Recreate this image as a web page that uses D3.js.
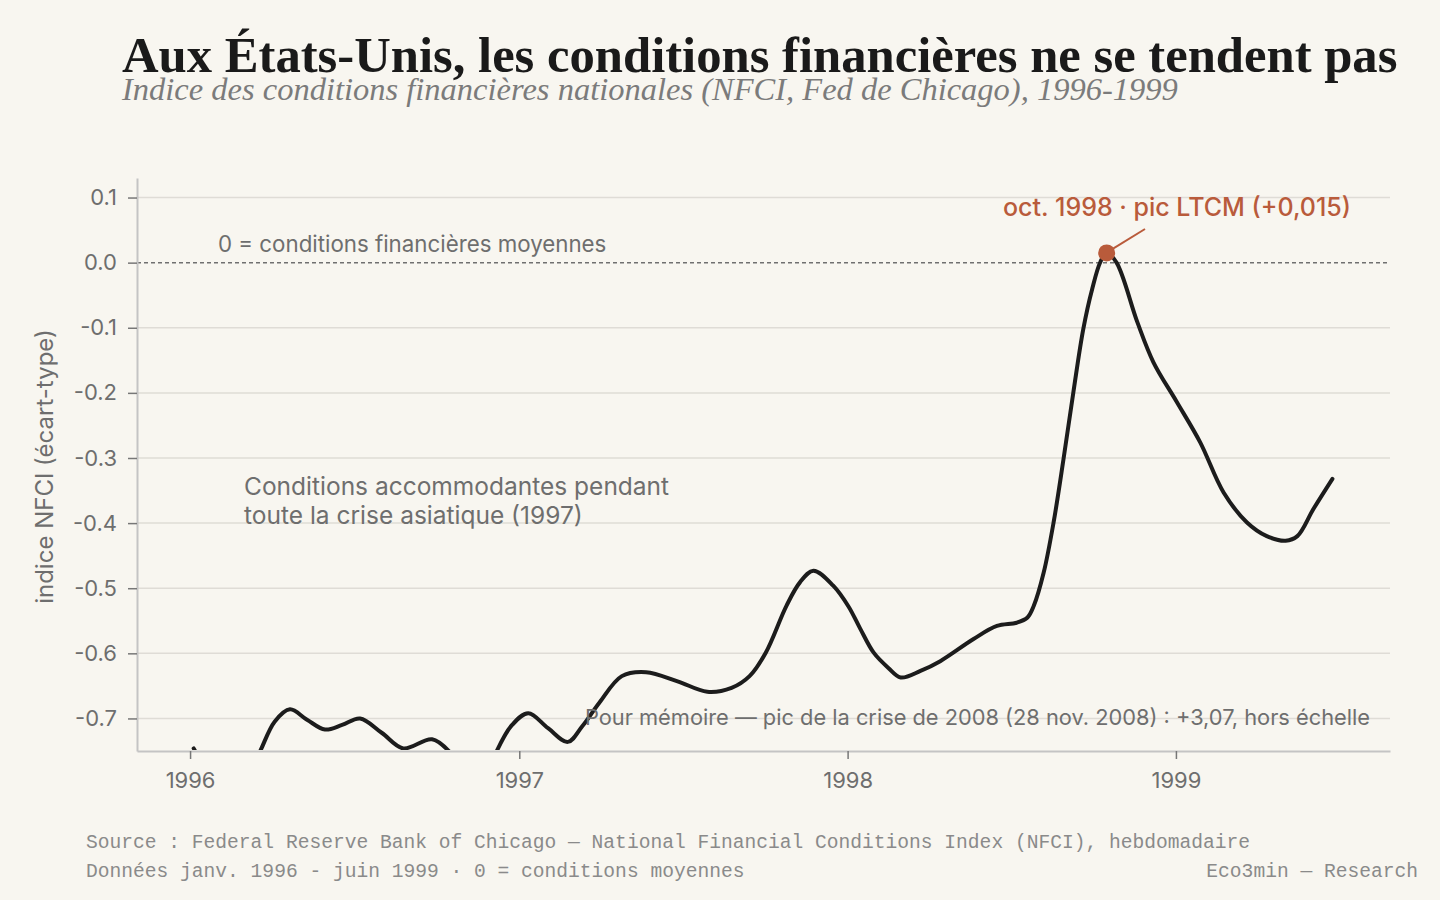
<!doctype html>
<html>
<head>
<meta charset="utf-8"/>
<title>NFCI 1996-1999</title>
<script src="https://d3js.org/d3.v7.min.js"></script>
<style>
body { margin: 0; background: #f8f6f0; }
svg { display: block; }
</style>
</head>
<body>
<svg id="chart"></svg>
<script>
// NFCI (values below -0.75 are clipped in the chart)
const dates = [
    '1996-01-05', '1996-01-26', '1996-02-16', '1996-03-08', '1996-03-19', '1996-04-04',
    '1996-04-21', '1996-05-10', '1996-05-30', '1996-06-18', '1996-07-08', '1996-08-01',
    '1996-08-25', '1996-09-26', '1996-10-16', '1996-10-30', '1996-11-15', '1996-11-29',
    '1996-12-07', '1996-12-24', '1997-01-11', '1997-02-02', '1997-02-24', '1997-03-12',
    '1997-03-31', '1997-04-25', '1997-05-22', '1997-06-26', '1997-07-29', '1997-08-25',
    '1997-09-14', '1997-10-02', '1997-10-25', '1997-11-09', '1997-11-24', '1997-12-16',
    '1998-01-02', '1998-01-15', '1998-01-30', '1998-02-15', '1998-03-01', '1998-03-23',
    '1998-04-14', '1998-05-21', '1998-06-16', '1998-07-08', '1998-07-20', '1998-07-27',
    '1998-08-07', '1998-08-18', '1998-08-29', '1998-09-09', '1998-09-20', '1998-09-30',
    '1998-10-09', '1998-10-16', '1998-10-27', '1998-11-19', '1998-12-07', '1999-01-02',
    '1999-01-28', '1999-02-23', '1999-03-21', '1999-04-12', '1999-05-03', '1999-05-16',
    '1999-06-03', '1999-06-24'
]
const nfci = [
    -0.746, -0.79, -0.81, -0.78, -0.750, -0.705,
    -0.686, -0.702, -0.717, -0.710, -0.700, -0.722,
    -0.746, -0.732, -0.752, -0.78, -0.80, -0.78,
    -0.750, -0.710, -0.692, -0.715, -0.736, -0.712,
    -0.676, -0.635, -0.629, -0.643, -0.659, -0.653,
    -0.635, -0.599, -0.527, -0.491, -0.473, -0.496,
    -0.528, -0.562, -0.599, -0.622, -0.637, -0.627,
    -0.612, -0.578, -0.558, -0.553, -0.545, -0.527,
    -0.476, -0.399, -0.302, -0.199, -0.102, -0.040,
    0.001, 0.015, 0.000, -0.091, -0.153, -0.214,
    -0.276, -0.353, -0.399, -0.420, -0.427, -0.420,
    -0.378, -0.332
]
const yTicks = [0.1, 0, -0.1, -0.2, -0.3, -0.4, -0.5, -0.6, -0.7]
const xTicks = ['1996-01-01', '1997-01-01', '1998-01-01', '1999-01-01']
const peakDate = '1998-10-16'
const peakValue = 0.015

const width = 1440
const height = 900
const mLeft = 137, mRight = 1390, mTop = 178, mBottom = 751

const bg = '#f8f6f0'
const ink = '#1c1c1c'
const grey = '#6e6e6e'
const accent = '#b95b3b'
const sans = 'Inter, "Noto Sans", sans-serif'

const parse = d3.timeParse('%Y-%m-%d')
const data = dates.map((d, i) => ({ date: parse(d), value: nfci[i] }))

const svg = d3.select('#chart')
    .attr('width', width)
    .attr('height', height)
    .style('background', bg)

const x = d3.scaleTime()
    .domain([parse('1995-11-03'), parse('1999-08-27')])
    .range([mLeft, mRight])
const y = d3.scaleLinear()
    .domain([-0.75, 0.13])
    .range([mBottom, mTop])

// scale a text's font size so it spans the target width
function fitWidth(sel, target) {
    const w = sel.node().getComputedTextLength()
    const fs = parseFloat(sel.attr('font-size'))
    sel.attr('font-size', fs * target / w)
}

// title + subtitle
const title = svg.append('text')
    .attr('x', 122).attr('y', 72)
    .attr('font-family', '"Liberation Serif", "DejaVu Serif", serif')
    .attr('font-weight', 700)
    .attr('font-size', 44)
    .attr('fill', '#1a1a1a')
    .text('Aux États-Unis, les conditions financières ne se tendent pas')
fitWidth(title, 1276)

const subtitle = svg.append('text')
    .attr('x', 122).attr('y', 100)
    .attr('font-family', '"Liberation Serif", "DejaVu Serif", serif')
    .attr('font-style', 'italic')
    .attr('font-size', 28)
    .attr('fill', '#7b7b7b')
    .text('Indice des conditions financières nationales (NFCI, Fed de Chicago), 1996-1999')
fitWidth(subtitle, 1056)

// grid
svg.append('g')
    .selectAll('line')
    .data(yTicks.filter(d => d !== 0))
    .join('line')
    .attr('x1', mLeft).attr('x2', mRight)
    .attr('y1', d => y(d)).attr('y2', d => y(d))
    .attr('stroke', '#dfdcd6')
    .attr('stroke-width', 1.5)

// zero line
svg.append('line')
    .attr('x1', mLeft).attr('x2', mRight - 3)
    .attr('y1', y(0)).attr('y2', y(0))
    .attr('stroke', '#707070')
    .attr('stroke-width', 1.5)
    .attr('stroke-dasharray', '4,3')

// axes
const yAxis = svg.append('g')
    .attr('transform', `translate(${mLeft},0)`)
    .call(d3.axisLeft(y).tickValues(yTicks).tickFormat(d => d.toFixed(1))
        .tickSize(9).tickSizeOuter(0).tickPadding(11))
const xAxis = svg.append('g')
    .attr('transform', `translate(0,${mBottom})`)
    .call(d3.axisBottom(x).tickValues(xTicks.map(parse)).tickFormat(d3.timeFormat('%Y'))
        .tickSize(8).tickSizeOuter(0).tickPadding(13))

for (const g of [yAxis, xAxis]) {
    g.select('.domain').attr('stroke', '#c4c4c4').attr('stroke-width', 2)
    g.selectAll('.tick line').attr('stroke', '#777').attr('stroke-width', 1.5)
    g.selectAll('.tick text')
        .attr('fill', grey)
        .attr('font-family', sans)
        .attr('font-size', 22)
}

svg.append('text')
    .attr('transform', `translate(53,${(mTop + mBottom) / 2 + 2}) rotate(-90)`)
    .attr('text-anchor', 'middle')
    .attr('font-family', sans)
    .attr('font-size', 24)
    .attr('fill', grey)
    .text('indice NFCI (écart-type)')

// annotations
svg.append('text')
    .attr('x', 218).attr('y', 252)
    .attr('font-family', sans).attr('font-size', 22.3).attr('fill', grey)
    .text('0 = conditions financières moyennes')

const note = svg.append('text')
    .attr('x', 244).attr('y', 495)
    .attr('font-family', sans).attr('font-size', 24.5).attr('fill', grey)
note.append('tspan').attr('x', 244).text('Conditions accommodantes pendant')
note.append('tspan').attr('x', 244).attr('dy', 29).text('toute la crise asiatique (1997)')

// line, clipped to plot area
svg.append('clipPath').attr('id', 'plot')
    .append('rect')
    .attr('x', mLeft).attr('y', mTop)
    .attr('width', mRight - mLeft).attr('height', mBottom - mTop - 1)

svg.append('path')
    .datum(data)
    .attr('clip-path', 'url(#plot)')
    .attr('fill', 'none')
    .attr('stroke', ink)
    .attr('stroke-width', 4)
    .attr('stroke-linejoin', 'round')
    .attr('stroke-linecap', 'round')
    .attr('d', d3.line().x(d => x(d.date)).y(d => y(d.value)).curve(d3.curveCatmullRom.alpha(0.5)))

svg.append('text')
    .attr('x', 1370).attr('y', 725)
    .attr('text-anchor', 'end')
    .attr('font-family', sans).attr('font-size', 21.8).attr('fill', grey)
    .text('Pour mémoire — pic de la crise de 2008 (28 nov. 2008) : +3,07, hors échelle')

// peak LTCM
const px = x(parse(peakDate)), py = y(peakValue)
svg.append('line')
    .attr('x1', px + 6).attr('y1', py - 4)
    .attr('x2', 1145).attr('y2', 229)
    .attr('stroke', accent).attr('stroke-width', 2)
svg.append('circle')
    .attr('cx', px).attr('cy', py).attr('r', 8.5)
    .attr('fill', accent)
svg.append('text')
    .attr('x', 1351).attr('y', 216)
    .attr('text-anchor', 'end')
    .attr('font-family', sans).attr('font-size', 25).attr('font-weight', 500)
    .attr('fill', accent)
    .text('oct. 1998 · pic LTCM (+0,015)')

// footer
const mono = '"Liberation Mono", "DejaVu Sans Mono", monospace'
svg.append('text')
    .attr('x', 86).attr('y', 848)
    .attr('font-family', mono).attr('font-size', 19.6).attr('fill', '#8a8a8a')
    .text('Source : Federal Reserve Bank of Chicago — National Financial Conditions Index (NFCI), hebdomadaire')
svg.append('text')
    .attr('x', 86).attr('y', 877)
    .attr('font-family', mono).attr('font-size', 19.6).attr('fill', '#8a8a8a')
    .text('Données janv. 1996 - juin 1999 · 0 = conditions moyennes')
svg.append('text')
    .attr('x', 1418).attr('y', 877)
    .attr('text-anchor', 'end')
    .attr('font-family', mono).attr('font-size', 19.6).attr('fill', '#8a8a8a')
    .text('Eco3min — Research')
</script>
</body>
</html>
